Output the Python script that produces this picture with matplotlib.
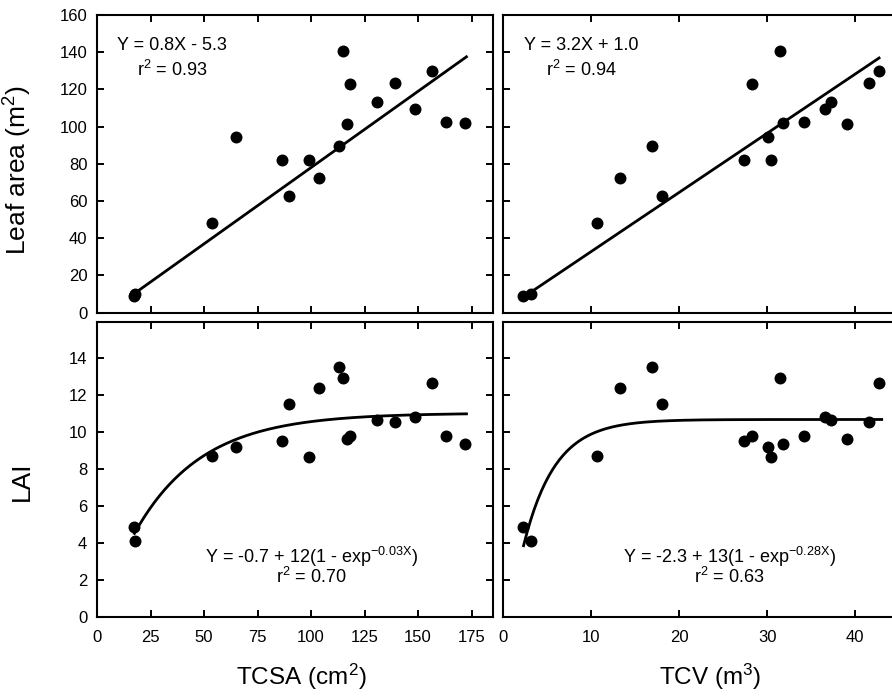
import numpy as np
import matplotlib
matplotlib.use("Agg")
import matplotlib.pyplot as plt

plt.rcParams['font.family'] = ['Liberation Sans', 'DejaVu Sans']
plt.rcParams['mathtext.fontset'] = 'custom'
plt.rcParams['mathtext.rm'] = 'Liberation Sans'
plt.rcParams['mathtext.it'] = 'Liberation Sans:italic'
plt.rcParams['mathtext.bf'] = 'Liberation Sans:bold'

# ---- data (one entry per tree) ----
tcsa = [17.5, 17.8, 53.8, 65.1, 86.6, 89.9, 99.1, 103.8, 113.2, 115.0,
        117.0, 118.2, 130.6, 139.0, 148.7, 156.4, 163.1, 172.1]
tcv = [2.2, 3.2, 10.6, 30.1, 27.3, 18.0, 30.4, 13.3, 16.9, 31.4,
       39.0, 28.3, 37.2, 41.5, 36.5, 42.7, 34.2, 31.8]
leaf_area = [8.8, 10.2, 48.2, 94.2, 82.0, 62.8, 82.0, 72.2, 89.4, 140.8,
             101.2, 123.1, 113.5, 123.4, 109.5, 130.1, 102.5, 101.9]
lai = [4.86, 4.14, 8.72, 9.2, 9.51, 11.53, 8.68, 12.38, 13.55, 12.92,
       9.64, 9.8, 10.66, 10.59, 10.84, 12.65, 9.8, 9.37]

# fitted curve parameters
lin_tcsa = (0.82, -4.0)          # slope, intercept
lin_tcv = (3.18, 1.1)
exp_tcsa = (-0.35, 11.4, 0.032)  # a + b(1 - exp(-cX))
exp_tcv = (-2.3, 13.0, 0.28)

xticks_tcsa = [0, 25, 50, 75, 100, 125, 150, 175]
xticks_tcv = [0, 10, 20, 30, 40]
yticks_la = [0, 20, 40, 60, 80, 100, 120, 140, 160]
yticks_lai = [0, 2, 4, 6, 8, 10, 12, 14]

fig = plt.figure(figsize=(8.92, 6.96), dpi=100)
W, H = 892.0, 696.0
lw_px, w_px = 97.0, 396.0
rx_px = 503.3
top_y0, top_y1 = 15.0, 312.7
bot_y0, bot_y1 = 321.5, 617.3

def mk(x0, y0, y1):
    return fig.add_axes([x0 / W, 1 - y1 / H, w_px / W, (y1 - y0) / H])

ax_tl = mk(lw_px, top_y0, top_y1)
ax_tr = mk(rx_px, top_y0, top_y1)
ax_bl = mk(lw_px, bot_y0, bot_y1)
ax_br = mk(rx_px, bot_y0, bot_y1)

MS = 74
LW = 2.0

for ax in (ax_tl, ax_tr, ax_bl, ax_br):
    for s in ax.spines.values():
        s.set_linewidth(1.5)
    ax.tick_params(direction='in', length=5, width=1.4, top=True, right=True,
                   labelsize=12)
    ax.tick_params(axis='x', pad=9)
    ax.tick_params(axis='y', pad=7)

# top-left
ax = ax_tl
ax.scatter(tcsa, leaf_area, s=MS, color='black', zorder=3, linewidths=0)
xx = np.linspace(min(tcsa), max(tcsa) + 0.5, 50)
ax.plot(xx, lin_tcsa[0] * xx + lin_tcsa[1], color='black', lw=LW)
ax.set_xlim(0, 185); ax.set_ylim(0, 160)
ax.set_xticks(xticks_tcsa); ax.set_yticks(yticks_la)
ax.tick_params(labelbottom=False)
ax.text(35, 143.5, 'Y = 0.8X - 5.3', ha='center', va='center', fontsize=13)
ax.text(35, 130.5, 'r$^{\\mathrm{2}}$ = 0.93', ha='center', va='center', fontsize=13)
ax.set_ylabel('Leaf area (m$^{\\mathrm{2}}$)', fontsize=19)
ax.yaxis.set_label_coords(-0.16, 0.48)

# top-right
ax = ax_tr
ax.scatter(tcv, leaf_area, s=MS, color='black', zorder=3, linewidths=0)
xx = np.linspace(min(tcv), max(tcv), 50)
ax.plot(xx, lin_tcv[0] * xx + lin_tcv[1], color='black', lw=LW)
ax.set_xlim(0, 45); ax.set_ylim(0, 160)
ax.set_xticks(xticks_tcv); ax.set_yticks(yticks_la)
ax.tick_params(labelbottom=False, labelleft=False)
ax.text(8.9, 143.5, 'Y = 3.2X + 1.0', ha='center', va='center', fontsize=13)
ax.text(8.9, 130.5, 'r$^{\\mathrm{2}}$ = 0.94', ha='center', va='center', fontsize=13)

# bottom-left
ax = ax_bl
ax.scatter(tcsa, lai, s=MS, color='black', zorder=3, linewidths=0)
xx = np.linspace(min(tcsa), max(tcsa) + 0.5, 200)
a, b, c = exp_tcsa
ax.plot(xx, a + b * (1 - np.exp(-c * xx)), color='black', lw=LW)
ax.set_xlim(0, 185); ax.set_ylim(0, 16)
ax.set_xticks(xticks_tcsa); ax.set_yticks(yticks_lai)
ax.text(100.3, 3.28, 'Y = -0.7 + 12(1 - exp$^{\\mathrm{-0.03X}}$)', ha='center', va='center', fontsize=13)
ax.text(100.3, 2.19, 'r$^{\\mathrm{2}}$ = 0.70', ha='center', va='center', fontsize=13)
ax.set_ylabel('LAI', fontsize=19)
ax.yaxis.set_label_coords(-0.16, 0.46)
ax.set_xlabel('TCSA (cm$^{\\mathrm{2}}$)', fontsize=17.5)
ax.xaxis.set_label_coords(0.515, -0.15)

# bottom-right
ax = ax_br
ax.scatter(tcv, lai, s=MS, color='black', zorder=3, linewidths=0)
xx = np.linspace(min(tcv) + 0.1, max(tcv) + 0.3, 200)
a, b, c = exp_tcv
ax.plot(xx, a + b * (1 - np.exp(-c * xx)), color='black', lw=LW)
ax.set_xlim(0, 45); ax.set_ylim(0, 16)
ax.set_xticks(xticks_tcv); ax.set_yticks(yticks_lai)
ax.tick_params(labelleft=False)
ax.text(25.7, 3.28, 'Y = -2.3 + 13(1 - exp$^{\\mathrm{-0.28X}}$)', ha='center', va='center', fontsize=13)
ax.text(25.7, 2.19, 'r$^{\\mathrm{2}}$ = 0.63', ha='center', va='center', fontsize=13)
ax.set_xlabel('TCV (m$^{\\mathrm{3}}$)', fontsize=17.5)
ax.xaxis.set_label_coords(0.522, -0.15)

fig.savefig('out.png', dpi=100)
